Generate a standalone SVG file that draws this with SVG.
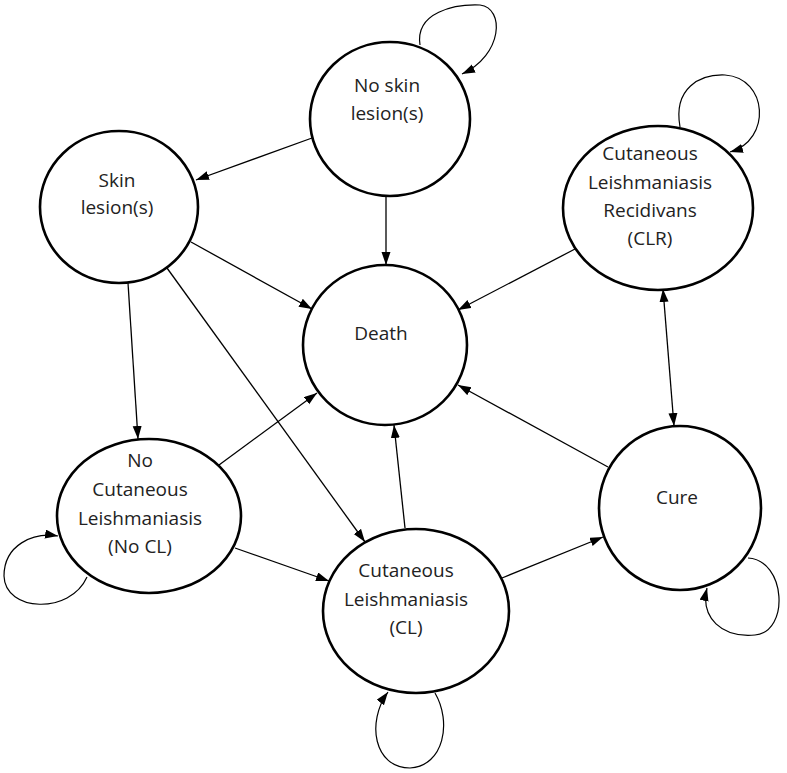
<svg xmlns="http://www.w3.org/2000/svg" width="787" height="773" viewBox="0 0 787 773">
<defs>
<marker id="ah" markerUnits="userSpaceOnUse" markerWidth="14" markerHeight="10" refX="13" refY="4.5" orient="auto-start-reverse">
<path d="M0,0 L13,4.5 L0,9 z" fill="#000"/>
</marker>
<style>
.n{fill:#fff;stroke:#000;stroke-width:2.6}
.t{font-family:"Open Sans","Noto Sans",sans-serif;font-size:19px;fill:#222;text-anchor:middle}
.e{fill:none;stroke:#000;stroke-width:1.3;marker-end:url(#ah)}
.l{fill:none;stroke:#000;stroke-width:1.2;marker-end:url(#ah)}
</style>
</defs>
<rect width="787" height="773" fill="#fff"/>
<g id="connectors">
<line class="e" x1="312" y1="138" x2="196" y2="180"/>
<line class="e" x1="386" y1="196" x2="386" y2="265"/>
<line class="e" x1="191" y1="242" x2="312" y2="309"/>
<line class="e" x1="128" y1="283" x2="138" y2="439"/>
<line class="e" x1="167" y1="268" x2="365" y2="542"/>
<line class="e" x1="219" y1="465" x2="317" y2="393"/>
<line class="e" x1="235" y1="548" x2="329" y2="581"/>
<line class="e" x1="405" y1="528" x2="394" y2="425"/>
<line class="e" x1="502" y1="578" x2="603" y2="537"/>
<line class="e" x1="608" y1="467" x2="458" y2="385"/>
<line class="e" x1="575" y1="249" x2="458" y2="310"/>
<line class="e" x1="663" y1="289" x2="674" y2="426" style="marker-start:url(#ah)"/>
<path class="l" d="M420,45 C415,12 455,4 480,5 C505,8 503,55 462,74"/>
<path class="l" d="M680,127 C673,88 700,74 725,75 C768,78 772,140 730,152"/>
<path class="l" d="M87,577 C70,615 5,612 4,576 C4,545 33,532 58,536"/>
<path class="l" d="M435,693 C452,722 444,766 410,768 C374,768 366,722 388,692"/>
<path class="l" d="M748,558 C786,560 790,632 755,635 C722,638 700,618 707,588"/>
</g>
<g id="no-skin-lesions">
<ellipse class="n" cx="390" cy="119" rx="80" ry="77"/>
<text class="t" x="387" y="92">No skin</text>
<text class="t" x="387" y="120">lesion(s)</text>
</g>
<g id="skin-lesions">
<ellipse class="n" cx="119" cy="207" rx="79" ry="76"/>
<text class="t" x="117" y="187">Skin</text>
<text class="t" x="117" y="214">lesion(s)</text>
</g>
<g id="death">
<ellipse class="n" cx="385" cy="345" rx="82" ry="80"/>
<text class="t" x="381" y="340">Death</text>
</g>
<g id="clr">
<ellipse class="n" cx="658" cy="208" rx="95" ry="82"/>
<text class="t" x="650" y="160">Cutaneous</text>
<text class="t" x="650" y="189">Leishmaniasis</text>
<text class="t" x="650" y="217">Recidivans</text>
<text class="t" x="650" y="245">(CLR)</text>
</g>
<g id="no-cl">
<ellipse class="n" cx="149" cy="516" rx="92" ry="77"/>
<text class="t" x="140" y="467">No</text>
<text class="t" x="140" y="496">Cutaneous</text>
<text class="t" x="140" y="525">Leishmaniasis</text>
<text class="t" x="140" y="553">(No CL)</text>
</g>
<g id="cl">
<ellipse class="n" cx="416" cy="611" rx="93" ry="82"/>
<text class="t" x="406" y="577">Cutaneous</text>
<text class="t" x="406" y="606">Leishmaniasis</text>
<text class="t" x="406" y="634">(CL)</text>
</g>
<g id="cure">
<ellipse class="n" cx="680" cy="508" rx="81" ry="82"/>
<text class="t" x="677" y="504">Cure</text>
</g>
</svg>
